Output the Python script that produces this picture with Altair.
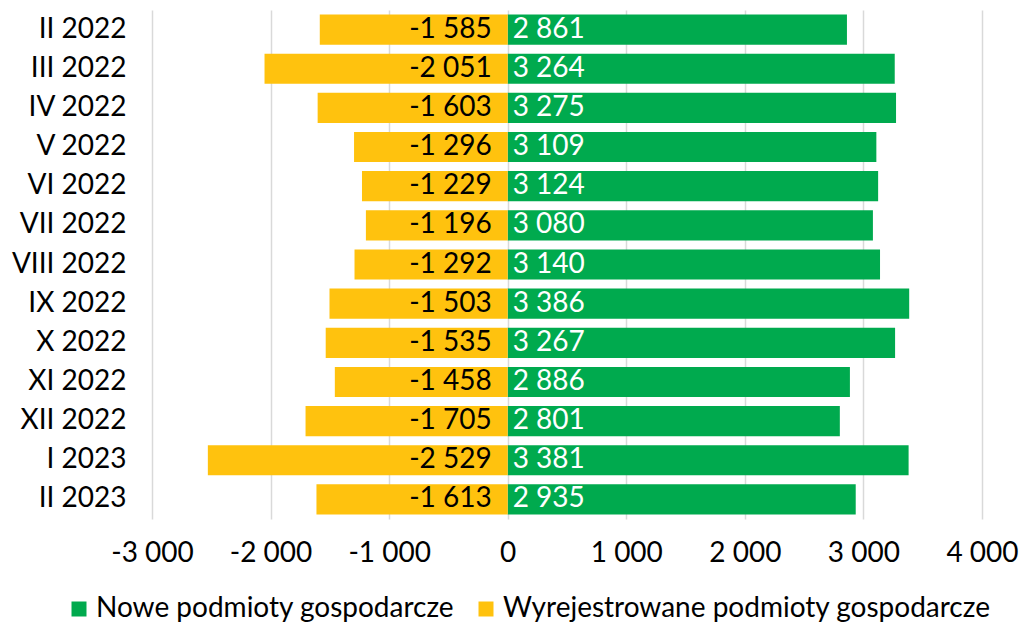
import altair as alt
import pandas as pd

months = ["II 2022", "III 2022", "IV 2022", "V 2022", "VI 2022", "VII 2022", "VIII 2022",
          "IX 2022", "X 2022", "XI 2022", "XII 2022", "I 2023", "II 2023"]
wyrejestrowane = [-1585, -2051, -1603, -1296, -1229, -1196, -1292, -1503, -1535, -1458, -1705, -2529, -1613]
nowe = [2861, 3264, 3275, 3109, 3124, 3080, 3140, 3386, 3267, 2886, 2801, 3381, 2935]

S_NOWE = "Nowe podmioty gospodarcze"
S_WYR = "Wyrejestrowane podmioty gospodarcze"


def fmt(v):
    s = f"{abs(v):,}".replace(",", " ")
    return ("-" if v < 0 else "") + s


rows = []
for m, w, n in zip(months, wyrejestrowane, nowe):
    rows.append({"month": m, "series": S_NOWE, "value": n, "label": fmt(n)})
    rows.append({"month": m, "series": S_WYR, "value": w, "label": fmt(w)})
df = pd.DataFrame(rows)

FONT = "Lato"
FS = 28

x_enc = alt.X("value:Q", stack=None,
              scale=alt.Scale(domain=[-3000, 4000], nice=False),
              axis=alt.Axis(values=list(range(-3000, 4001, 1000)), title=None,
                            labelExpr="(datum.value < 0 ? '-' : '') + replace(format(abs(datum.value), ','), ',', ' ')",
                            domain=False, ticks=False, tickSize=0, labelPadding=20,
                            labelOverlap=False, labelFlush=False,
                            grid=True, gridColor="#d9d9d9", gridWidth=1.5,
                            labelFontSize=FS, labelColor="#000000", labelFont=FONT))
y_enc = alt.Y("month:N", sort=months, title=None,
              scale=alt.Scale(paddingInner=0.23, paddingOuter=0.115),
              axis=alt.Axis(domain=False, ticks=False, tickSize=0, labelPadding=26,
                            labelFontSize=FS, labelColor="#000000", labelFont=FONT))

bars = alt.Chart(df).mark_bar().encode(
    x=x_enc,
    y=y_enc,
    color=alt.Color("series:N",
                    scale=alt.Scale(domain=[S_NOWE, S_WYR], range=["#00AA4E", "#FFC20E"]),
                    legend=alt.Legend(title=None, orient="none", direction="horizontal",
                                      legendX=-87, legendY=585,
                                      symbolType="square", symbolSize=225,
                                      symbolStrokeWidth=0, labelFontSize=FS,
                                      labelFont=FONT, labelColor="#000000",
                                      labelOffset=3, columnPadding=17,
                                      labelLimit=600)),
)

neg_text = alt.Chart(df).transform_filter(alt.datum.value < 0).mark_text(
    align="right", baseline="middle", dx=-16, fontSize=FS, font=FONT, color="#000000"
).encode(
    x=alt.datum(0),
    y=alt.Y("month:N", sort=months),
    text="label:N",
)

pos_text = alt.Chart(df).transform_filter(alt.datum.value > 0).mark_text(
    align="left", baseline="middle", dx=5, fontSize=FS, font=FONT, color="#ffffff"
).encode(
    x=alt.datum(0),
    y=alt.Y("month:N", sort=months),
    text="label:N",
)

chart = alt.layer(bars, neg_text, pos_text).properties(
    width=830, height=509,
    padding={"left": 144, "top": 2, "right": 38, "bottom": 105},
    autosize=alt.AutoSizeParams(type="none"),
).configure_view(stroke=None)

chart.save("out.html", embed_options={"renderer": "svg", "actions": False})
